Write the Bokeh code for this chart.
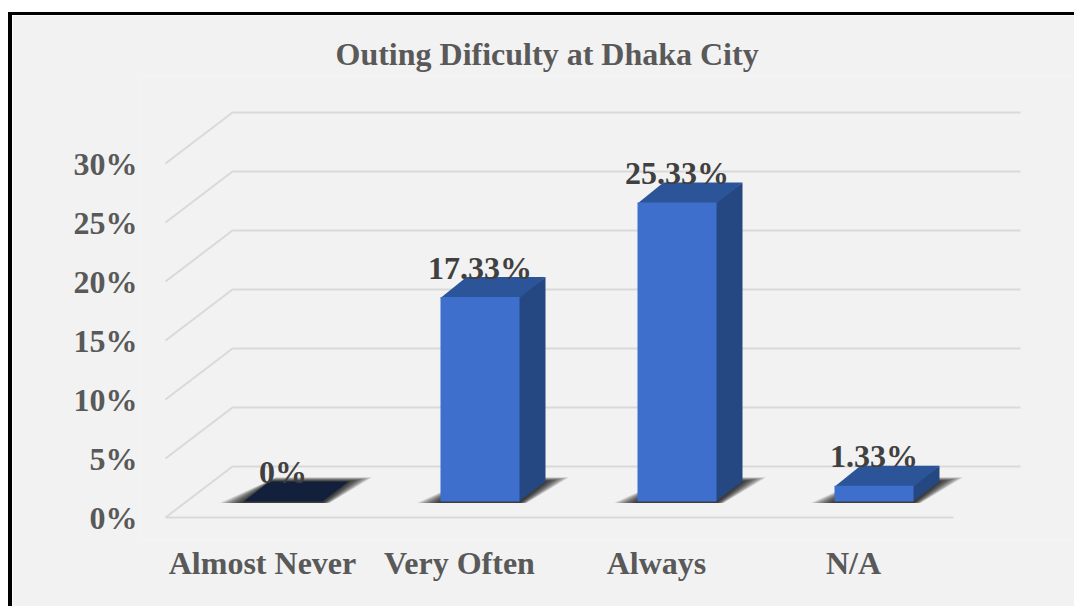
from bokeh.plotting import figure
from bokeh.models import FixedTicker, PrintfTickFormatter, Range1d
from bokeh.core.properties import value as val
from bokeh.embed import file_html
from bokeh.resources import INLINE

categories = ["Almost Never", "Very Often", "Always", "N/A"]
values = [0, 17.33, 25.33, 1.33]
labels = ["0%", "17.33%", "25.33%", "1.33%"]
y_ticks = [0, 5, 10, 15, 20, 25, 30]
title = "Outing Dificulty at Dhaka City"

FONT = "Liberation Serif"
BG = "#f2f2f2"
PX_X = 197.0    # pixels per category
PX_Y = 11.8     # pixels per percent
W, H = 1062, 591
FL, FT, FR, FB = 128, 60, 1062, 525   # frame box, inner pixels
X0_ABS, Y0_ABS = 165, 517             # where (0, 0) falls in the picture
ORIG_X, ORIG_Y = 12, 15

fl_abs, fr_abs = FL + ORIG_X, FR + ORIG_X
ft_abs, fb_abs = FT + ORIG_Y, FB + ORIG_Y

p = figure(
    width=W, height=H, output_backend="svg", toolbar_location=None,
    frame_width=FR - FL, frame_height=FB - FT,
    min_border_left=FL, min_border_right=0, min_border_top=FT, min_border_bottom=H - FB,
    x_range=Range1d((fl_abs - X0_ABS) / PX_X, (fr_abs - X0_ABS) / PX_X),
    y_range=Range1d((Y0_ABS - fb_abs) / PX_Y, (Y0_ABS - ft_abs) / PX_Y),
    background_fill_color=BG, border_fill_color=BG, outline_line_color=None,
    styles={"margin-left": "8px", "margin-top": "12px", "border-left": "4px solid #000",
            "border-top": "3px solid #000", "box-sizing": "content-box"},
)
p.grid.visible = False

p.title.text = title
p.title.text_font = FONT
p.title.text_font_size = "32px"
p.title.text_font_style = "bold"
p.title.text_color = "#595959"
p.title.align = "left"
p.title.offset = 335 - fl_abs
p.title.standoff = 8

# axes
ax = p.xaxis[0]
tick_pos = [i + 0.5 - 1.5 / PX_X for i in range(len(categories))]
ax.ticker = FixedTicker(ticks=tick_pos)
ax.major_label_overrides = dict(zip(tick_pos, categories))
ay = p.yaxis[0]
ay.ticker = FixedTicker(ticks=y_ticks)
ay.formatter = PrintfTickFormatter(format="%d%%")
for a in (ax, ay):
    a.axis_line_color = None
    a.major_tick_line_color = None
    a.minor_tick_line_color = None
    a.major_tick_out = 0
    a.major_tick_in = 0
    a.minor_tick_out = 0
    a.major_label_text_font = FONT
    a.major_label_text_font_size = "32px"
    a.major_label_text_font_style = "bold"
    a.major_label_text_color = "#595959"
ax.major_label_standoff = 4
ay.major_label_standoff = 3

# floor/wall gridlines
WALL_X, WALL_Y = 67 / PX_X, 51 / PX_Y
n = len(categories)
GRID = "#d9d9d9"
for v in y_ticks:
    if v == 0:
        p.line([0, n], [0, 0], line_color=GRID, line_width=2)
        p.line([0, WALL_X, n + WALL_X], [0, WALL_Y, WALL_Y], line_color=GRID, line_width=2)
    else:
        p.line([0, WALL_X, n + WALL_X], [v, v + WALL_Y, v + WALL_Y], line_color=GRID, line_width=2)

# 3D bars
OFF_X, OFF_Y = 19 / PX_X, 16 / PX_Y
BAR_W = 79 / PX_X
DX, DY = 26 / PX_X, 20 / PX_Y
OV = 1 / PX_X
FRONT, SIDE, TOP, EMPTY = "#3f6fcd", "#264882", "#2b5499", "#12203c"

for i, v in enumerate(values):
    x0 = i + 0.5 + OFF_X - BAR_W / 2
    x1 = x0 + BAR_W
    b = OFF_Y
    # soft shadow on the floor
    for k in range(14, 0, -1):
        ex = k * 1.7 / PX_X
        et = k * 0.3 / PX_Y
        eb = 1.5 / PX_Y
        p.patch([x0 - ex, x1 + ex * 0.3, x1 + DX + ex, x0 + DX + ex * 0.3],
                [b - eb, b - eb, b + DY + et, b + DY + et],
                fill_color="black", fill_alpha=0.09, line_color=None)
    t = b + v
    if v > 0:
        p.patch([x1 - OV, x1 + DX, x1 + DX, x1 - OV], [b, b + DY, t + DY, t], fill_color=SIDE, line_color=None)
        p.patch([x0, x1, x1 + DX, x0 + DX], [t - 1 / PX_Y, t - 1 / PX_Y, t + DY, t + DY], fill_color=TOP, line_color=None)
        p.patch([x0, x1, x1, x0], [b, b, t, t], fill_color=FRONT, line_color=None)
    else:
        p.patch([x0, x1, x1 + DX, x0 + DX], [t, t, t + DY, t + DY], fill_color=EMPTY, line_color=None)

p.text([i + 0.5 + OFF_X for i in range(n)], [OFF_Y + v for v in values], text=labels,
       text_font=val(FONT), text_font_size="32px", text_font_style="bold", text_color="#404040",
       text_align="center", text_baseline="middle", x_offset=0, y_offset=-29.5)

open("out.html", "w").write(file_html(p, INLINE))
